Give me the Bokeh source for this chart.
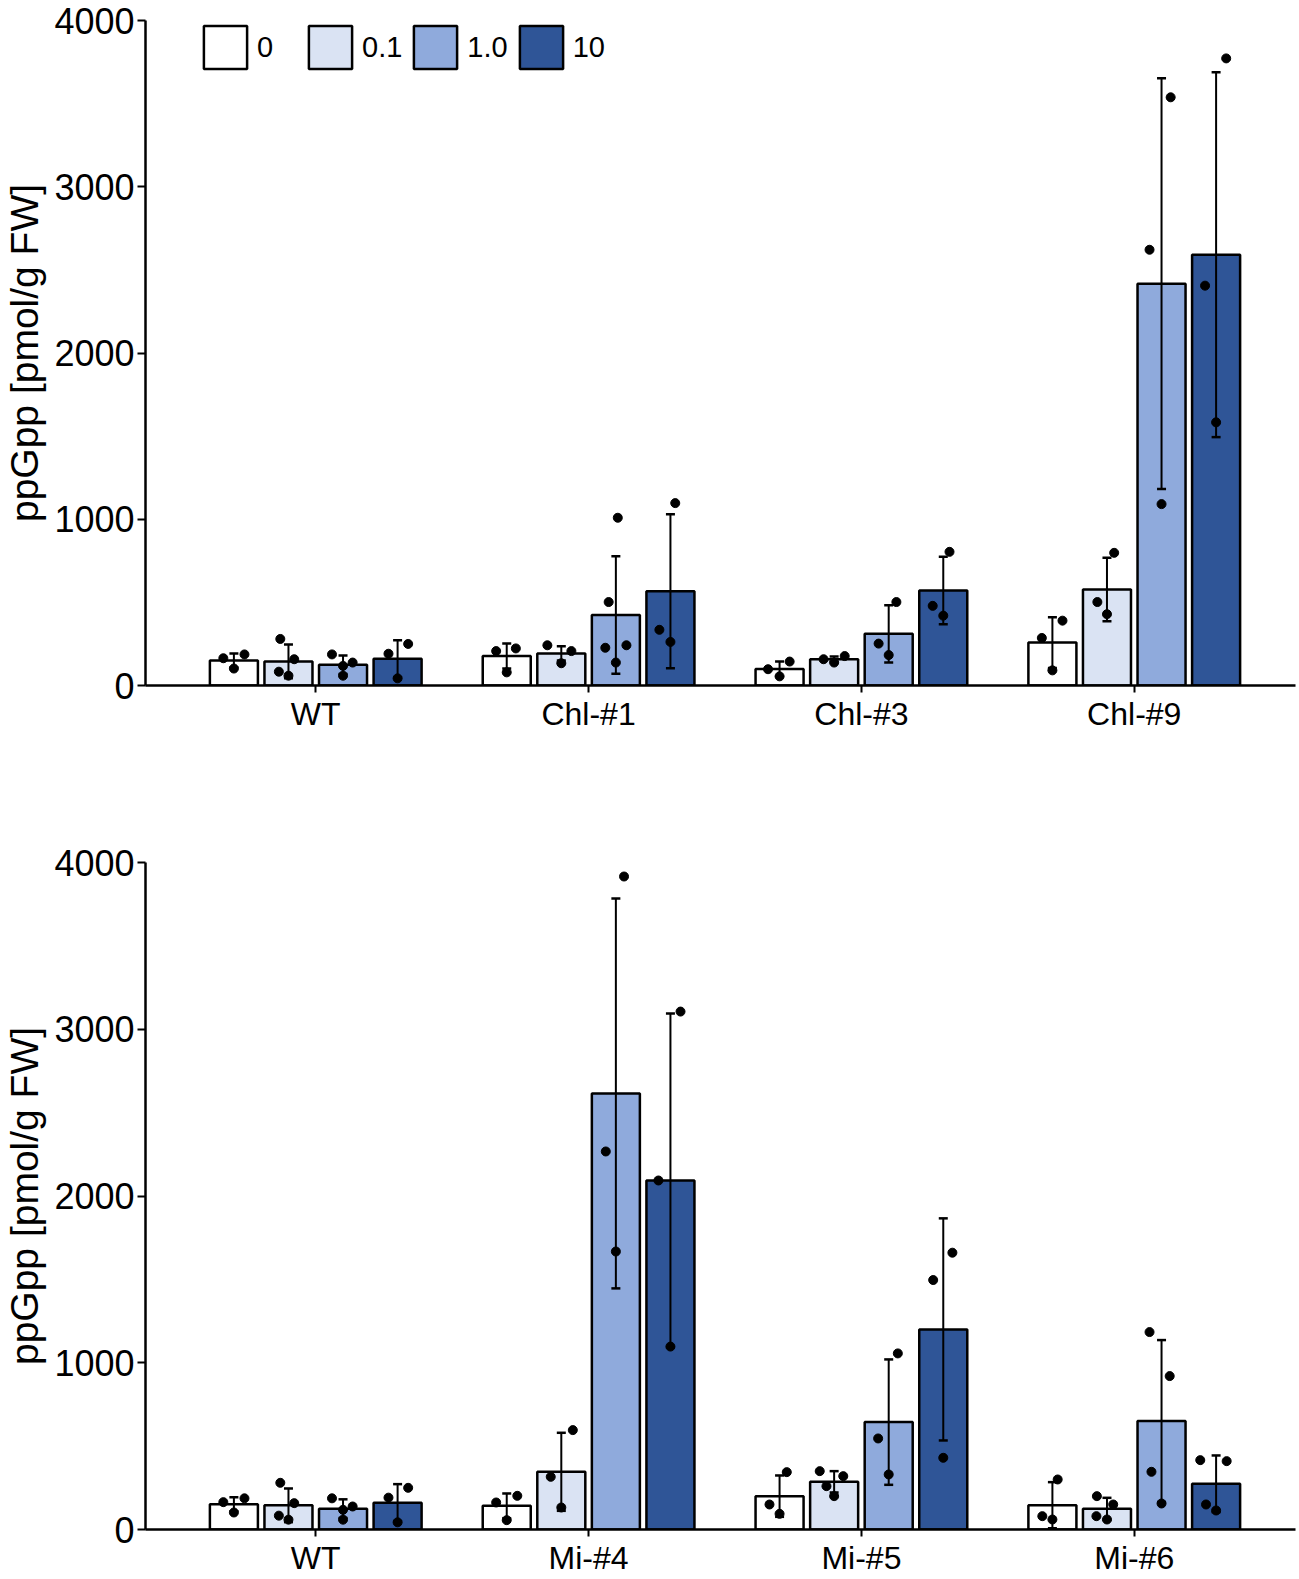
from bokeh.plotting import figure
from bokeh.models import Range1d, FixedTicker, Whisker, TeeHead, ColumnDataSource, Legend, LegendItem
from bokeh.layouts import column
from bokeh.embed import file_html
from bokeh.resources import INLINE

# ---------------- data ----------------
doses = ["0", "0.1", "1.0", "10"]
colors = ["#ffffff", "#dae3f3", "#8faadc", "#2f5597"]

top_lines = ["WT", "Chl-#1", "Chl-#3", "Chl-#9"]
top_mean = [[151, 145, 125, 161],
            [177, 193, 424, 567],
            [100, 158, 311, 571],
            [258, 577, 2417, 2591]]
top_sd = [[42, 101, 56, 111],
          [75, 43, 354, 463],
          [44, 17, 172, 203],
          [152, 191, 1235, 1097]]
top_points = [[[164, 187, 102], [280, 83, 59, 158], [187, 118, 138, 59], [191, 250, 43]],
              [[207, 223, 79], [242, 134, 207], [1009, 502, 227, 242, 138], [1097, 335, 262]],
              [[98, 144, 55], [158, 138, 177], [502, 252, 183], [804, 479, 420]],
              [[286, 390, 91], [798, 502, 429], [2621, 3538, 1091], [3772, 2405, 1583]]]

bot_lines = ["WT", "Mi-#4", "Mi-#5", "Mi-#6"]
bot_mean = [[151, 145, 125, 161],
            [142, 346, 2615, 2093],
            [200, 286, 644, 1200],
            [146, 124, 650, 274]]
bot_sd = [[42, 101, 56, 111],
          [74, 234, 1169, 1001],
          [124, 64, 376, 666],
          [138, 66, 486, 170]]
bot_points = [[[164, 187, 102], [280, 83, 59, 158], [187, 118, 138, 59], [191, 250, 43]],
              [[162, 202, 56], [596, 316, 132], [2267, 1667, 3916], [2093, 3106, 1097]],
              [[150, 344, 94], [350, 320, 260, 200], [1056, 546, 330], [1660, 1496, 430]],
              [[300, 80, 60], [200, 150, 80, 60], [1184, 920, 346, 156], [416, 410, 150, 114]]]

# horizontal jitter of the dots (fraction of bar width)
top_jitter = [[[-0.22, 0.22, 0.0], [-0.17, -0.2, 0.0, 0.12], [-0.23, 0.0, 0.2, 0.0], [-0.19, 0.22, 0.0]],
              [[-0.22, 0.19, 0.0], [-0.29, 0.0, 0.21], [0.04, -0.15, -0.22, 0.22, 0.0], [0.1, -0.23, 0.0]],
              [[-0.24, 0.21, 0.0], [-0.22, 0.0, 0.22], [0.16, -0.21, 0.0], [0.13, -0.22, 0.0]],
              [[-0.22, 0.21, 0.0], [0.15, -0.2, 0.0], [-0.25, 0.19, 0.0], [0.21, -0.23, 0.0]]]
bot_jitter = [[[-0.22, 0.22, 0.0], [-0.17, -0.2, 0.0, 0.12], [-0.23, 0.0, 0.2, 0.0], [-0.19, 0.22, 0.0]],
              [[-0.22, 0.22, 0.0], [0.24, -0.22, 0.0], [-0.21, 0.0, 0.17], [-0.25, 0.21, 0.0]],
              [[-0.21, 0.15, 0.0], [-0.3, 0.19, -0.16, 0.0], [0.19, -0.22, 0.0], [0.19, -0.21, 0.0]],
              [[0.11, -0.21, 0.0], [-0.21, 0.13, -0.22, 0.0], [-0.25, 0.17, -0.21, 0.0], [-0.33, 0.22, -0.21, 0.0]]]

y_ticks = [0, 1000, 2000, 3000, 4000]
y_label = "ppGpp [pmol/g FW]"

FONT = "Liberation Sans"
STEP = 0.2
BAR_W = 0.176
W = 1299


def make_panel(lines, means, sds, points, jitter, height, b_top, b_bottom, legend):
    p = figure(width=W, height=height, output_backend="svg", toolbar_location=None,
               x_range=Range1d(0.376, 4.591), y_range=Range1d(0, 4000),
               min_border_left=142, min_border_right=4,
               min_border_top=b_top, min_border_bottom=b_bottom)
    p.outline_line_color = None
    p.xgrid.visible = False
    p.ygrid.visible = False
    p.background_fill_color = "white"

    renderers = []
    for j, d in enumerate(doses):
        xs = [i + 1 + (j - 1.5) * STEP for i in range(len(lines))]
        tops = [means[i][j] for i in range(len(lines))]
        r = p.vbar(x=xs, top=tops, bottom=0, width=BAR_W, fill_color=colors[j],
                   line_color="black", line_width=2.5)
        renderers.append(r)

    ex, up, lo = [], [], []
    px, py = [], []
    for i in range(len(lines)):
        for j in range(len(doses)):
            x0 = i + 1 + (j - 1.5) * STEP
            ex.append(x0)
            up.append(means[i][j] + sds[i][j])
            lo.append(means[i][j] - sds[i][j])
            for v, jt in zip(points[i][j], jitter[i][j]):
                px.append(x0 + jt * BAR_W)
                py.append(v)
    src = ColumnDataSource(dict(x=ex, upper=up, lower=lo))
    w = Whisker(source=src, base="x", upper="upper", lower="lower",
                line_color="black", line_width=2,
                upper_head=TeeHead(size=9, line_width=2.5, line_color="black"),
                lower_head=TeeHead(size=9, line_width=2.5, line_color="black"),
                level="annotation")
    p.add_layout(w)
    p.scatter(px, py, size=9, color="black")

    # axes
    p.xaxis.ticker = FixedTicker(ticks=[1, 2, 3, 4])
    p.xaxis.major_label_overrides = {i + 1: lab for i, lab in enumerate(lines)}
    p.xaxis.major_label_text_font = FONT
    p.xaxis.major_label_text_font_size = "32px"
    p.xaxis.major_label_text_color = "black"
    p.xaxis.major_label_standoff = 3
    p.xaxis.minor_tick_line_color = None
    p.xaxis.major_tick_in = 0
    p.xaxis.major_tick_out = 7
    p.xaxis.major_tick_line_width = 2
    p.xaxis.axis_line_width = 2.5

    p.yaxis.ticker = FixedTicker(ticks=y_ticks)
    p.yaxis.major_label_text_font = FONT
    p.yaxis.major_label_text_font_size = "36px"
    p.yaxis.major_label_text_color = "black"
    p.yaxis.major_label_standoff = 3
    p.yaxis.minor_tick_line_color = None
    p.yaxis.major_tick_in = 0
    p.yaxis.major_tick_out = 8
    p.yaxis.major_tick_line_width = 2
    p.yaxis.axis_line_width = 2.5
    p.yaxis.axis_label = y_label
    p.yaxis.axis_label_text_font = FONT
    p.yaxis.axis_label_text_font_size = "39px"
    p.yaxis.axis_label_text_font_style = "normal"
    p.yaxis.axis_label_text_color = "black"
    p.yaxis.axis_label_standoff = 5

    if legend:
        lg = Legend(items=[LegendItem(label=d, renderers=[r]) for d, r in zip(doses, renderers)],
                    orientation="horizontal", location="top_left",
                    glyph_width=54, glyph_height=54, label_width=40,
                    label_standoff=5, spacing=6, padding=0, margin=0,
                    border_line_alpha=0, background_fill_alpha=0,
                    label_text_font=FONT, label_text_font_size="29px",
                    label_text_color="black")
        lg.margin = 0
        p.add_layout(lg)
        # shift horizontally to the reference position
        lg.location = (53, 665 - 54)
    return p


# top: frame 20..685 ; bottom: frame 862..1531
p1 = make_panel(top_lines, top_mean, top_sd, top_points, top_jitter,
                height=780, b_top=20, b_bottom=95, legend=True)
p2 = make_panel(bot_lines, bot_mean, bot_sd, bot_points, bot_jitter,
                height=798, b_top=82, b_bottom=47, legend=False)

layout = column(p1, p2, spacing=0)
open("out.html", "w").write(file_html(layout, INLINE))
